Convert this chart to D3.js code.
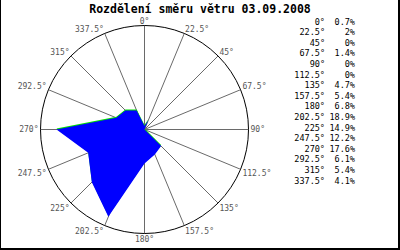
<!DOCTYPE html>
<html><head><meta charset="utf-8">
<script src="https://cdn.jsdelivr.net/npm/d3@7/dist/d3.min.js"></script>
<style>html,body{margin:0;padding:0;background:#fff;}svg{display:block;}</style>
</head><body>
<script>
const title = "Rozdělení směru větru 03.09.2008";
const directions = [0, 22.5, 45, 67.5, 90, 112.5, 135, 157.5, 180, 202.5, 225, 247.5, 270, 292.5, 315, 337.5];
const values = [0.7, 2, 0, 1.4, 0, 0, 4.7, 5.4, 6.8, 18.9, 14.9, 12.2, 17.6, 6.1, 5.4, 4.1];
const dirLabels = ["0°", "22.5°", "45°", "67.5°", "90°", "112.5°", "135°", "157.5°", "180°", "202.5°", "225°", "247.5°", "270°", "292.5°", "315°", "337.5°"];
const pctLabels = ["0.7%", "2%", "0%", "1.4%", "0%", "0%", "4.7%", "5.4%", "6.8%", "18.9%", "14.9%", "12.2%", "17.6%", "6.1%", "5.4%", "4.1%"];

const W = 400, H = 250;
const cx = 144.5, cy = 129.5, R = 104;
const svg = d3.select("body").append("svg").attr("width", W).attr("height", H);
svg.append("rect").attr("width", W).attr("height", H).attr("fill", "#fff");

const rScale = d3.scaleLinear().domain([0, 20.8]).range([0, R]);
const toRad = d => d * Math.PI / 180;

const g = svg.append("g").attr("transform", `translate(${cx},${cy})`);

// spokes
g.selectAll("line.spoke").data(directions).join("line")
  .attr("x1", 0).attr("y1", 0)
  .attr("x2", d => R * Math.sin(toRad(d)))
  .attr("y2", d => -R * Math.cos(toRad(d)))
  .attr("stroke", "#6a6a6a").attr("stroke-width", 1);

// circle
g.append("circle").attr("r", R).attr("fill", "none").attr("stroke", "#000").attr("stroke-width", 1);

// polygon
const line = d3.lineRadial()
  .angle((d, i) => toRad(directions[i]))
  .radius(d => rScale(d))
  .curve(d3.curveLinearClosed);
g.append("path").attr("d", line(values)).attr("fill", "#00e000")
  .attr("transform", "translate(0,-1)");
g.append("path").attr("d", line(values)).attr("fill", "#0000ff");

// angle labels
g.selectAll("text.ang").data(directions).join("text")
  .attr("x", d => (R + 2) * Math.sin(toRad(d)))
  .attr("y", d => -(R + 2) * Math.cos(toRad(d)))
  .attr("text-anchor", d => { const s = Math.sin(toRad(d)); return Math.abs(s) < 0.01 ? "middle" : (s > 0 ? "start" : "end"); })
  .attr("dy", d => { const c = Math.cos(toRad(d)); return Math.abs(c) < 0.01 ? "0.35em" : (c > 0 ? "0" : "0.8em"); })
  .attr("font-family", "DejaVu Sans Mono, monospace")
  .attr("font-size", 8)
  .attr("fill", "#555")
  .text((d, i) => dirLabels[i]);

// title
svg.append("text").attr("x", 200).attr("y", 12.5).attr("text-anchor", "middle")
  .attr("font-family", "DejaVu Sans Mono, monospace").attr("font-weight", "bold")
  .attr("font-size", 11.5).attr("fill", "#000").text(title);

// legend
const ly = d3.scaleLinear().domain([0, 15]).range([21.7, 180.7]);
const leg = svg.append("g").attr("font-family", "DejaVu Sans Mono, monospace").attr("font-size", 8.5).attr("fill", "#000");
leg.selectAll("text.d").data(dirLabels).join("text")
  .attr("x", 325).attr("y", (d, i) => ly(i)).attr("dy", "0.35em")
  .attr("text-anchor", "end").text(d => d);
leg.selectAll("text.p").data(pctLabels).join("text")
  .attr("x", 355).attr("y", (d, i) => ly(i)).attr("dy", "0.35em")
  .attr("text-anchor", "end").text(d => d);

// frame
svg.append("line").attr("x1", 0.5).attr("y1", 0).attr("x2", 0.5).attr("y2", H).attr("stroke", "#000");
svg.append("line").attr("x1", W - 1).attr("y1", 0).attr("x2", W - 1).attr("y2", H).attr("stroke", "#000").attr("stroke-width", 2);
svg.append("line").attr("x1", 0).attr("y1", H - 1).attr("x2", W).attr("y2", H - 1).attr("stroke", "#000").attr("stroke-width", 2);
</script>
</body></html>
